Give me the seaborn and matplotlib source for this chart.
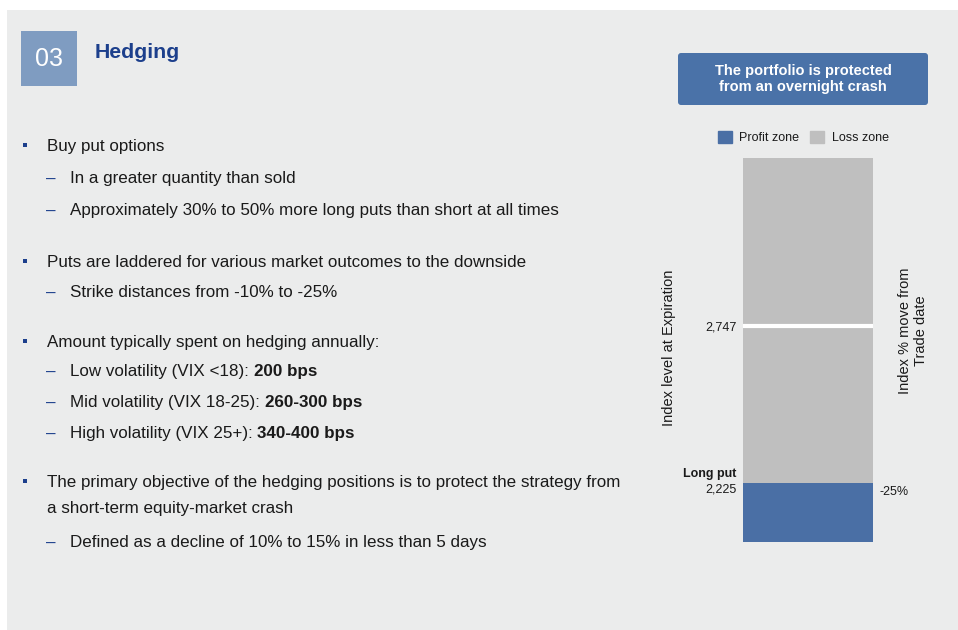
import matplotlib
matplotlib.use("Agg")
import numpy as np
import pandas as pd
import matplotlib.pyplot as plt
import matplotlib.transforms as mtransforms
import seaborn as sns
from matplotlib.patches import Rectangle, FancyBboxPatch, Patch

sns.set_style("white")
plt.rcParams["font.family"] = ["Liberation Sans", "DejaVu Sans"]

# ---------- data ----------
zones = ["Loss zone", "Profit zone"]
zone_tops = [3305, 2225]          # index level where each zone ends
axis_floor = 2030
marked_levels = [2747, 2225]
marked_labels = ["2,747", "2,225"]
strike_move = ["-25%"]
strike_name = "Long put"

section_no = "03"
section_title = "Hedging"
callout = "The portfolio is protected\nfrom an overnight crash"
left_axis_label = "Index level at Expiration"
right_axis_label = "Index % move from\nTrade date"

# (level, [(text, bold), ...]); level 0 = bullet, 1 = dash, 2 = continuation
bullet_lines = [
    (0, [("Buy put options", False)]),
    (1, [("In a greater quantity than sold", False)]),
    (1, [("Approximately 30% to 50% more long puts than short at all times", False)]),
    (0, [("Puts are laddered for various market outcomes to the downside", False)]),
    (1, [("Strike distances from -10% to -25%", False)]),
    (0, [("Amount typically spent on hedging annually:", False)]),
    (1, [("Low volatility (VIX <18):", False), ("200 bps", True)]),
    (1, [("Mid volatility (VIX 18-25):", False), ("260-300 bps", True)]),
    (1, [("High volatility (VIX 25+):", False), ("340-400 bps", True)]),
    (0, [("The primary objective of the hedging positions is to protect the strategy from", False)]),
    (2, [("a short-term equity-market crash", False)]),
    (1, [("Defined as a decline of 10% to 15% in less than 5 days", False)]),
]
baselines = [151, 183, 215, 267, 297, 347, 376, 407, 438, 487, 513, 547]

# ---------- colours ----------
PANEL = "#EBECEC"
BLUE = "#4A6FA5"
GRAY = "#BFBFBF"
NAVY = "#1C3F8C"
TEXT = "#1A1A1A"
zone_colors = {"Loss zone": GRAY, "Profit zone": BLUE}
BODY = 12.25

fig = plt.figure(figsize=(9.58, 6.30), dpi=100)
fig.patch.set_facecolor("white")

# background layer in pixel coordinates
bg = fig.add_axes([0, 0, 1, 1])
bg.set_xlim(0, 958)
bg.set_ylim(630, 0)
bg.axis("off")
bg.add_patch(Rectangle((7, 10), 951, 620, color=PANEL, lw=0))

# header
bg.add_patch(Rectangle((21, 31), 56, 55, color="#7F9CC1", lw=0))
bg.text(49, 66.5, section_no, ha="center", va="baseline", fontsize=18, color="white")
bg.text(95, 58, section_title, ha="left", va="baseline", fontsize=15.3,
        weight="bold", color=NAVY)

# bullet text
renderer = fig.canvas.get_renderer()


def text_width(s, **kw):
    t = bg.text(0, 0, s, **kw)
    w = t.get_window_extent(renderer=renderer).width
    t.remove()
    return w


space_w = text_width("a a", fontsize=BODY) - text_width("aa", fontsize=BODY)

for (level, parts), y in zip(bullet_lines, baselines):
    if level == 0:
        bg.add_patch(Rectangle((23, y - 8), 4, 4, color=NAVY, lw=0))
        x = 47
    elif level == 1:
        bg.text(46, y + 1, "–", fontsize=BODY, color=NAVY, va="baseline")
        x = 70
    else:
        x = 47
    for s, bold in parts:
        kw = dict(fontsize=BODY, color=TEXT, weight="bold" if bold else "normal")
        bg.text(x, y, s, va="baseline", ha="left", **kw)
        x += text_width(s, **kw) + space_w

# callout box
bg.add_patch(FancyBboxPatch((678, 53), 250, 52,
                            boxstyle="round,pad=0,rounding_size=3",
                            color="#4A72A8", lw=0))
bg.text(803, 79, callout, ha="center", va="center", fontsize=10.5,
        weight="bold", color="white", linespacing=1.2)

# axis titles
bg.text(669, 347.5, left_axis_label, rotation=90, ha="center", va="center",
        fontsize=10.5, color=TEXT)
bg.text(913, 331, right_axis_label, rotation=90, ha="center", va="center",
        fontsize=10.5, color=TEXT, linespacing=1.2, multialignment="center")

# ---------- bar chart ----------
ax = fig.add_axes([743 / 958, 88 / 630, 130 / 958, 384 / 630])
ax.set_facecolor("none")
for zone, top in zip(zones, zone_tops):
    sns.barplot(x=["Index"], y=[top], color=zone_colors[zone], width=1,
                saturation=1, errorbar=None, linewidth=0, edgecolor="none", ax=ax)
ax.set_xlim(-0.5, 0.5)
ax.set_ylim(axis_floor, zone_tops[0])
ax.axhline(marked_levels[0], color="white", lw=3)
ax.set_xlabel("")
ax.set_ylabel("")
ax.set_xticks([])
ax.set_yticks(marked_levels, marked_labels)
ax.tick_params(axis="y", length=0, pad=4.5, labelsize=9, labelcolor=TEXT)
ax.get_yticklabels()[1].set_va("top")
sns.despine(ax=ax, left=True, bottom=True)

ax.annotate(strike_name, xy=(0, marked_levels[1]), xycoords=ax.get_yaxis_transform(),
            xytext=(-4.5, 4.3), textcoords="offset points", ha="right",
            va="baseline", fontsize=9, weight="bold", color=TEXT)

ax2 = ax.twinx()
ax2.set_ylim(axis_floor, zone_tops[0])
ax2.set_yticks([marked_levels[1]], strike_move)
ax2.tick_params(axis="y", length=0, pad=4.5, labelsize=9, labelcolor=TEXT)
pct = ax2.get_yticklabels()[0]
pct.set_va("top")
pct.set_transform(pct.get_transform() +
                  mtransforms.ScaledTranslation(0, -3 / 100, fig.dpi_scale_trans))
for s in ax2.spines.values():
    s.set_visible(False)

handles = [Patch(color=zone_colors[z], label=z) for z in ["Profit zone", "Loss zone"]]
ax.legend(handles=handles, loc="center", ncol=2, frameon=False, fontsize=9,
          bbox_to_anchor=(803.4 / 958, 1 - 137.5 / 630), bbox_transform=fig.transFigure,
          handlelength=1.12, handleheight=1.12, handletextpad=0.58,
          columnspacing=0.88, borderpad=0, borderaxespad=0, labelcolor=TEXT)

fig.savefig("out.png", dpi=100)
